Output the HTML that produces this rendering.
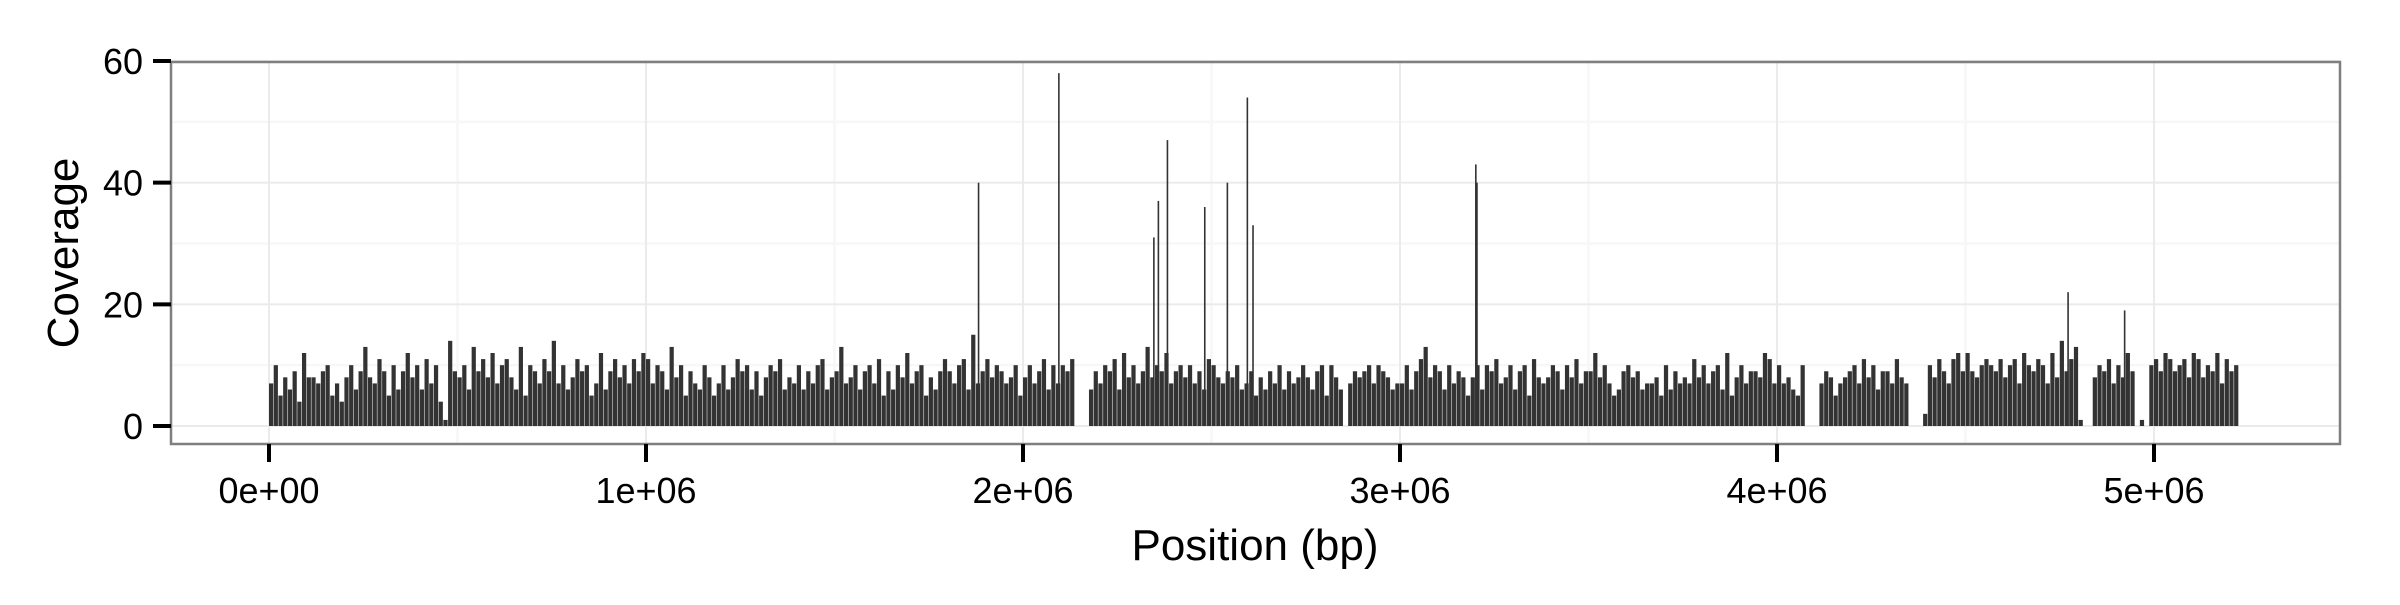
<!DOCTYPE html>
<html><head><meta charset="utf-8">
<style>
html,body{margin:0;padding:0;background:#fff;}
svg text{font-family:"Liberation Sans",Arial,sans-serif;}
</style></head>
<body>
<svg id="chart" width="2400" height="600" viewBox="0 0 2400 600" xmlns="http://www.w3.org/2000/svg">
  <rect x="0" y="0" width="2400" height="600" fill="#fff"/>
  <rect x="171" y="62" width="2169" height="382" fill="#fff"/>
  <g id="grid"></g>
  <g id="bars"></g>
  <rect x="171" y="62" width="2169" height="382" fill="none" stroke="#7f7f7f" stroke-width="2.5"/>
  <g id="axes"></g>
  <text transform="translate(78,253) rotate(-90)" text-anchor="middle" font-size="44" fill="#000">Coverage</text>
  <text x="1255" y="560" text-anchor="middle" font-size="44" fill="#000">Position (bp)</text>
</svg>
<script>
// ---- data ----
const binSize = 12500;
const coverageSegments = [
  "7a58694c8879a5748a69d87b95a69c8a6b7a41e9",
  "8a6d9b8c7ab86d5a97b9e7a68b9a57c69b8a7b9c",
  "b7a96d8a5976a857a68b9a6958a9b687a697ab68",
  "9d78a69a7b596a8c79a5869b97ab6f79b8a978a5",
  "8a79b6a7a9b000697a9b6c8a79d8a9c79a8a796b",
  "a8798a67958697a6978a869a5a8607989a7a9867",
  "7a69bd8a96a79858a6a9b78a69a5b878a96a8b79",
  "9c8a7569a8967785a69787b8a79a6c58a7998cb7",
  "a7865a0007985789a7b8a6997b870002a8b97bc9",
  "c98aba9b8ab7ca9ba7c8e9bd1008a9b7a8c9010a",
  "b9cb9ab8cb8a9c7b9a"
];
const spikePositions = [1880000, 2093000, 2345000, 2357000, 2381000, 2480000, 2540000, 2593000, 2608000, 3199000, 3202000, 4770000, 4920000];
const spikeValues    = [40, 58, 31, 37, 47, 36, 40, 54, 33, 43, 40, 22, 19];
const xTicks = [0, 1000000, 2000000, 3000000, 4000000, 5000000];
const xTickLabels = ["0e+00", "1e+06", "2e+06", "3e+06", "4e+06", "5e+06"];
const xMinor = [500000, 1500000, 2500000, 3500000, 4500000];
const yTicks = [0, 20, 40, 60];
const yTickLabels = ["0", "20", "40", "60"];
const yMinor = [10, 30, 50];

// ---- scales ----
const X0 = 269, XPER = 377 / 1e6;
const Y0 = 426, YPER = 365 / 60;
const xs = v => X0 + v * XPER;
const ys = v => Y0 - v * YPER;
const NS = "http://www.w3.org/2000/svg";
function mk(tag, attrs, parent) {
  const e = document.createElementNS(NS, tag);
  for (const k in attrs) e.setAttribute(k, attrs[k]);
  parent.appendChild(e);
  return e;
}
const grid = document.getElementById('grid');
const bars = document.getElementById('bars');
const axes = document.getElementById('axes');

yMinor.forEach(v => {
  const l = mk('line', {x1: 171, x2: 2340, y1: ys(v), y2: ys(v), stroke: '#f7f7f7', 'stroke-width': 2.5}, grid);
  
  
});
xMinor.forEach(v => {
  const l = mk('line', {x1: xs(v), x2: xs(v), y1: 62, y2: 444, stroke: '#f7f7f7', 'stroke-width': 2.5}, grid);
  
  
});
yTicks.forEach(v => {
  const l = mk('line', {x1: 171, x2: 2340, y1: ys(v), y2: ys(v), stroke: '#ebebeb', 'stroke-width': 2}, grid);
  
  
});
xTicks.forEach(v => {
  const l = mk('line', {x1: xs(v), x2: xs(v), y1: 62, y2: 444, stroke: '#ebebeb', 'stroke-width': 2}, grid);
  
  
});

// bars
const values = coverageSegments.join('').split('').map(c => parseInt(c, 36));
const bw = binSize * XPER;
values.forEach((v, i) => {
  if (v <= 0) return;
  const x = xs(i * binSize);
  const r = mk('rect', {x: x, y: ys(v), width: Math.max(bw - 0.5, 0.5), height: Y0 - ys(v), fill: '#333333'}, bars);
  
  
});
spikePositions.forEach((p, i) => {
  const r = mk('rect', {x: xs(p), y: ys(spikeValues[i]), width: 1.6, height: Y0 - ys(spikeValues[i]), fill: '#333333'}, bars);
  
  
});

// axes
yTicks.forEach((v, i) => {
  const t = mk('line', {x1: 153, x2: 171, y1: ys(v), y2: ys(v), stroke: '#000', 'stroke-width': 4}, axes);
  
  
  const tx = mk('text', {x: 143, y: ys(v) + 13, 'text-anchor': 'end', 'font-size': 36, fill: '#000'}, axes);
  tx.textContent = yTickLabels[i];
  
  
});
xTicks.forEach((v, i) => {
  const t = mk('line', {x1: xs(v), x2: xs(v), y1: 444, y2: 462, stroke: '#000', 'stroke-width': 4}, axes);
  
  
  const tx = mk('text', {x: xs(v), y: 503, 'text-anchor': 'middle', 'font-size': 36, fill: '#000'}, axes);
  tx.textContent = xTickLabels[i];
  
  
});
</script>
</body></html>
